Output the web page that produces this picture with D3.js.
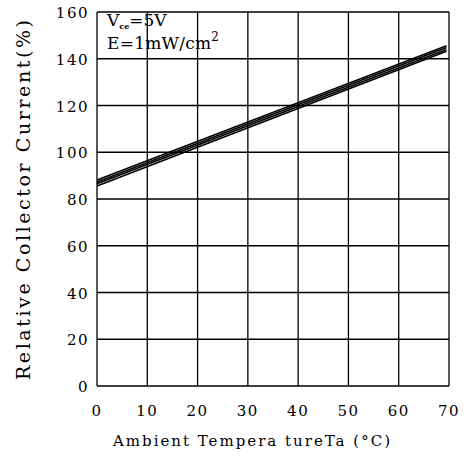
<!DOCTYPE html>
<html>
<head>
<meta charset="utf-8">
<script src="https://cdn.jsdelivr.net/npm/d3@7"></script>
<style>
  body { margin: 0; background: #fff; }
  svg { display: block; }
</style>
</head>
<body>
<svg class="chart" width="466" height="457"></svg>
<script>
// data
var xTicks = [0, 10, 20, 30, 40, 50, 60, 70];
var yTicks = [0, 20, 40, 60, 80, 100, 120, 140, 160];
var lineStart = [0, 0, 0, 0];
var lineEnd = [69.5, 69.5, 69.5, 69.5];
var startValues = [85.6, 86.5, 87.3, 88.1];
var endValues = [143.2, 144.0, 144.8, 145.6];

var svg = d3.select('.chart');
var margin = {top: 12, right: 17, bottom: 71, left: 97};
var width = 466 - margin.left - margin.right;
var height = 457 - margin.top - margin.bottom;

var x = d3.scaleLinear().domain([0, 70]).range([0, width]);
var y = d3.scaleLinear().domain([0, 160]).range([height, 0]);

var g = svg.append("g")
    .attr("transform", "translate(" + margin.left + "," + margin.top + ")");

// grid
g.selectAll(".vgrid")
    .data(xTicks)
    .enter().append("line")
    .attr("x1", function(d) { return x(d); })
    .attr("x2", function(d) { return x(d); })
    .attr("y1", 0).attr("y2", height)
    .attr("stroke", "#000").attr("stroke-width", 1.3);

g.selectAll(".hgrid")
    .data(yTicks)
    .enter().append("line")
    .attr("y1", function(d) { return y(d); })
    .attr("y2", function(d) { return y(d); })
    .attr("x1", 0).attr("x2", width)
    .attr("stroke", "#000").attr("stroke-width", 1.3);

// tick labels
g.selectAll(".xlab")
    .data(xTicks)
    .enter().append("text")
    .attr("x", function(d) { return x(d); })
    .attr("y", height + 30)
    .attr("text-anchor", "middle")
    .style("font-family", "DejaVu Serif")
    .style("font-size", "15px")
    .style("letter-spacing", "1.5px")
    .text(function(d) { return d; });

g.selectAll(".ylab")
    .data(yTicks)
    .enter().append("text")
    .attr("x", -8)
    .attr("y", function(d) { return y(d) + 6; })
    .attr("text-anchor", "end")
    .style("font-family", "DejaVu Serif")
    .style("font-size", "15px")
    .style("letter-spacing", "1.5px")
    .text(function(d) { return d; });

// curves
var lines = startValues.map(function(v, i) {
    return [[lineStart[i], v], [lineEnd[i], endValues[i]]];
});
var path = d3.line()
    .x(function(d) { return x(d[0]); })
    .y(function(d) { return y(d[1]); });

g.selectAll(".curve")
    .data(lines)
    .enter().append("path")
    .attr("d", path)
    .attr("fill", "none")
    .attr("stroke", "#000")
    .attr("stroke-width", 1.6);

// condition note
var note = g.append("g").style("font-family", "DejaVu Serif").style("font-size", "17px");
var t1 = note.append("text").attr("x", 10).attr("y", 14);
t1.append("tspan").text("V");
t1.append("tspan").attr("dy", 3).style("font-size", "8px").style("font-weight", "bold").text("ce");
t1.append("tspan").attr("dy", -3).text("=5V");
var t2 = note.append("text").attr("x", 10).attr("y", 37).attr("textLength", 112).attr("lengthAdjust", "spacing");
t2.append("tspan").text("E=1mW/cm");
t2.append("tspan").attr("dy", -8).style("font-size", "12px").text("2");

// axis titles
svg.append("text")
    .attr("x", 113).attr("y", 446)
    .attr("textLength", 277)
    .attr("lengthAdjust", "spacing")
    .style("font-family", "DejaVu Serif")
    .style("font-size", "15px")
    .text("Ambient Tempera tureTa (\u00b0C)");

svg.append("text")
    .attr("transform", "translate(30,380) rotate(-90)")
    .attr("textLength", 360)
    .attr("lengthAdjust", "spacing")
    .style("font-family", "DejaVu Serif")
    .style("font-size", "19px")
    .text("Relative Collector Current(%)");
</script>
</body>
</html>
